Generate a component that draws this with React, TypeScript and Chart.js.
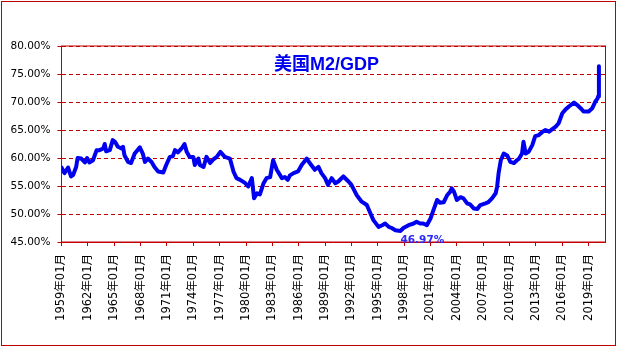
import React, { useEffect, useRef } from 'react';
import { Chart, registerables } from 'chart.js';

Chart.register(...registerables);

const dates: string[] = [
  '1959-01', '1959-05', '1959-10', '1960-02', '1960-05', '1960-09', '1960-11', '1961-04', '1961-09', '1961-12',
  '1962-03', '1962-08', '1963-01', '1963-05', '1963-10', '1963-12', '1964-02', '1964-07', '1964-11', '1965-02',
  '1965-06', '1965-11', '1966-01', '1966-03', '1966-08', '1966-12', '1967-05', '1967-12', '1968-04', '1968-07',
  '1968-11', '1969-04', '1969-08', '1970-01', '1970-08', '1970-12', '1971-05', '1971-09', '1971-12', '1972-04',
  '1972-09', '1973-01', '1973-04', '1973-08', '1974-01', '1974-03', '1974-08', '1974-10', '1975-03', '1975-07',
  '1975-12', '1976-04', '1976-09', '1977-02', '1977-08', '1978-03', '1978-08', '1978-12', '1979-05', '1979-12',
  '1980-04', '1980-09', '1980-12', '1981-04', '1981-08', '1982-01', '1982-05', '1982-10', '1983-02', '1983-07',
  '1984-02', '1984-06', '1984-10', '1985-01', '1985-06', '1985-12', '1986-05', '1986-12', '1987-04', '1987-11',
  '1988-04', '1988-08', '1989-01', '1989-05', '1989-10', '1990-03', '1990-07', '1991-02', '1991-09', '1992-01',
  '1992-08', '1993-03', '1993-10', '1994-03', '1994-07', '1995-02', '1995-07', '1995-11', '1996-04', '1996-08',
  '1997-01', '1997-08', '1997-12', '1998-07', '1999-02', '1999-06', '1999-11', '2000-03', '2000-08', '2001-01',
  '2001-05', '2001-10', '2002-02', '2002-07', '2002-12', '2003-04', '2003-06', '2003-09', '2004-01', '2004-06',
  '2004-10', '2005-03', '2005-07', '2005-12', '2006-05', '2006-09', '2007-04', '2007-08', '2008-01', '2008-06',
  '2008-08', '2008-10', '2009-01', '2009-05', '2009-10', '2010-02', '2010-07', '2010-11', '2011-02', '2011-06',
  '2011-08', '2011-11', '2012-03', '2012-08', '2012-12', '2013-05', '2013-10', '2014-02', '2014-07', '2014-11',
  '2015-04', '2015-08', '2016-01', '2016-05', '2016-10', '2017-05', '2017-09', '2018-02', '2018-06', '2019-01',
  '2019-06', '2019-10', '2020-01', '2020-02', '2020-03',
];

const values: number[] = [
  58.3, 57.3, 58.3, 56.7, 57.0, 58.4, 60.0, 59.9, 59.2, 60.0,
  59.2, 59.6, 61.4, 61.4, 61.7, 62.5, 61.2, 61.4, 63.2, 62.9,
  62.0, 61.7, 62.0, 60.5, 59.3, 59.1, 60.8, 61.9, 60.8, 59.3,
  59.9, 59.3, 58.4, 57.6, 57.4, 58.75, 60.2, 60.3, 61.4, 61.0,
  61.7, 62.5, 61.1, 60.2, 60.2, 58.75, 59.9, 58.75, 58.4, 60.2,
  59.1, 59.7, 60.2, 61.1, 60.2, 59.9, 57.55, 56.4, 56.1, 55.5,
  54.9, 56.4, 52.8, 53.7, 53.5, 55.5, 56.4, 56.6, 59.6, 57.9,
  56.4, 56.6, 56.1, 56.9, 57.3, 57.6, 58.75, 59.9, 59.1, 57.9,
  58.4, 57.3, 56.4, 55.2, 56.4, 55.5, 55.8, 56.7, 55.8, 55.2,
  53.4, 52.2, 51.6, 50.1, 48.9, 47.7, 48.0, 48.3, 47.7, 47.5,
  47.1, 46.97, 47.5, 48.0, 48.3, 48.6, 48.3, 48.3, 48.0, 49.2,
  50.7, 52.5, 52.0, 52.1, 53.4, 54.0, 54.6, 54.0, 52.5, 53.0,
  52.8, 51.9, 51.7, 51.0, 50.9, 51.6, 51.9, 52.1, 52.8, 53.7,
  54.9, 57.3, 59.6, 60.8, 60.4, 59.3, 59.1, 59.6, 59.9, 60.8,
  62.9, 60.8, 61.1, 62.3, 63.9, 64.1, 64.7, 65.0, 64.7, 65.1,
  65.6, 66.2, 68.0, 68.6, 69.2, 69.9, 69.5, 68.9, 68.3, 68.3,
  68.9, 70.05, 70.6, 71.0, 76.4,
];

const xTickLabels: string[] = [
  '1959年01月', '1962年01月', '1965年01月', '1968年01月', '1971年01月', '1974年01月', '1977年01月',
  '1980年01月', '1983年01月', '1986年01月', '1989年01月', '1992年01月', '1995年01月', '1998年01月',
  '2001年01月', '2004年01月', '2007年01月', '2010年01月', '2013年01月', '2016年01月', '2019年01月',
];

const yTickValues: number[] = [45, 50, 55, 60, 65, 70, 75, 80];

const TITLE = '美国M2/GDP';
const START_YEAR = 1959;
const LAST_CATEGORY = '2020-12';

const RED = '#C00000';
const BLUE = '#0000F0';

function monthIndex(d: string): number {
  const y = parseInt(d.slice(0, 4), 10);
  const m = parseInt(d.slice(5, 7), 10);
  return (y - START_YEAR) * 12 + (m - 1);
}

function labelIndex(label: string): number {
  return monthIndex(label.slice(0, 4) + '-' + label.slice(5, 7));
}

export default function App() {
  const canvasRef = useRef<HTMLCanvasElement | null>(null);

  useEffect(() => {
    const canvas = canvasRef.current;
    if (!canvas) return;

    const points = dates.map((d, i) => ({ x: monthIndex(d), y: values[i] }));
    const tickMap = new Map<number, string>();
    xTickLabels.forEach((l) => tickMap.set(labelIndex(l), l));

    let minI = 0;
    values.forEach((v, i) => {
      if (v < values[minI]) minI = i;
    });

    const decor = {
      id: 'decor',
      beforeDraw(chart: any) {
        const ctx = chart.ctx;
        ctx.save();
        ctx.fillStyle = '#ffffff';
        ctx.fillRect(0, 0, chart.width, chart.height);
        ctx.strokeStyle = RED;
        ctx.lineWidth = 1;
        ctx.strokeRect(1.5, 1.5, 614, 344);
        ctx.restore();
      },
      beforeDatasetsDraw(chart: any) {
        const { ctx, chartArea } = chart;
        ctx.save();
        ctx.strokeStyle = RED;
        ctx.lineWidth = 1;
        ctx.setLineDash([]);
        ctx.strokeRect(chartArea.left, chartArea.top, chartArea.right - chartArea.left, chartArea.bottom - chartArea.top);
        ctx.restore();
      },
      afterDatasetsDraw(chart: any) {
        const { ctx, chartArea, scales } = chart;
        ctx.save();
        ctx.fillStyle = BLUE;
        ctx.font = "bold 18px 'Liberation Sans', 'Noto Sans CJK SC', sans-serif";
        ctx.textAlign = 'center';
        ctx.textBaseline = 'middle';
        const cx = chartArea.left + 0.487 * (chartArea.right - chartArea.left);
        ctx.fillText(TITLE, cx, chartArea.top + 19);

        const mx = scales.x.getPixelForValue(points[minI].x);
        const my = scales.y.getPixelForValue(points[minI].y);
        ctx.fillStyle = '#2a2aff';
        ctx.font = "bold 10.5px 'DejaVu Sans', sans-serif";
        ctx.textAlign = 'left';
        ctx.textBaseline = 'middle';
        ctx.fillText(values[minI].toFixed(2) + '%', mx, my + 9);
        ctx.restore();
      },
    };

    const chart = new Chart(canvas, {
      type: 'line',
      data: {
        datasets: [
          {
            data: points,
            borderColor: BLUE,
            borderWidth: 4,
            pointRadius: 0,
            tension: 0,
            fill: false,
            borderJoinStyle: 'round',
            borderCapStyle: 'round',
          },
        ],
      },
      options: {
        animation: false,
        responsive: false,
        parsing: false,
        layout: { padding: { left: 0, top: 46, right: 13.5, bottom: 0 } },
        plugins: {
          legend: { display: false },
          tooltip: { enabled: false },
          title: { display: false },
        },
        scales: {
          x: {
            type: 'linear',
            min: 0,
            max: monthIndex(LAST_CATEGORY),
            afterBuildTicks: (scale: any) => {
              scale.ticks = xTickLabels.map((l) => ({ value: labelIndex(l) }));
            },
            afterFit: (scale: any) => {
              scale.height = 106;
            },
            ticks: {
              autoSkip: false,
              minRotation: 90,
              maxRotation: 90,
              padding: 8,
              color: '#000000',
              font: { family: "'DejaVu Sans', 'Noto Sans CJK SC', sans-serif", size: 11.5 },
              callback: (v: any) => tickMap.get(Number(v)) ?? '',
            },
            grid: {
              display: true,
              drawOnChartArea: false,
              drawTicks: true,
              tickLength: 4,
              tickColor: RED,
              color: RED,
            },
            border: { display: true, color: RED, width: 1 },
          },
          y: {
            type: 'linear',
            min: 45,
            max: 80,
            afterBuildTicks: (scale: any) => {
              scale.ticks = yTickValues.map((v) => ({ value: v }));
            },
            afterFit: (scale: any) => {
              scale.width = 61.5;
            },
            ticks: {
              padding: 7,
              color: '#000000',
              font: { family: "'DejaVu Sans', sans-serif", size: 10.5 },
              callback: (v: any) => Number(v).toFixed(2) + '%',
            },
            grid: {
              display: true,
              color: RED,
              lineWidth: 1,
              drawTicks: true,
              tickLength: 4,
              tickColor: RED,
              tickBorderDash: [],
            },
            border: { display: true, color: RED, width: 1, dash: [4, 3] },
          },
        },
      },
      plugins: [decor],
    } as any);

    return () => {
      chart.destroy();
    };
  }, []);

  return (
    <div style={{ position: 'absolute', left: 0, top: 0, width: 619, height: 348 }}>
      <canvas ref={canvasRef} width={619} height={348} style={{ display: 'block', width: 619, height: 348 }} />
    </div>
  );
}
